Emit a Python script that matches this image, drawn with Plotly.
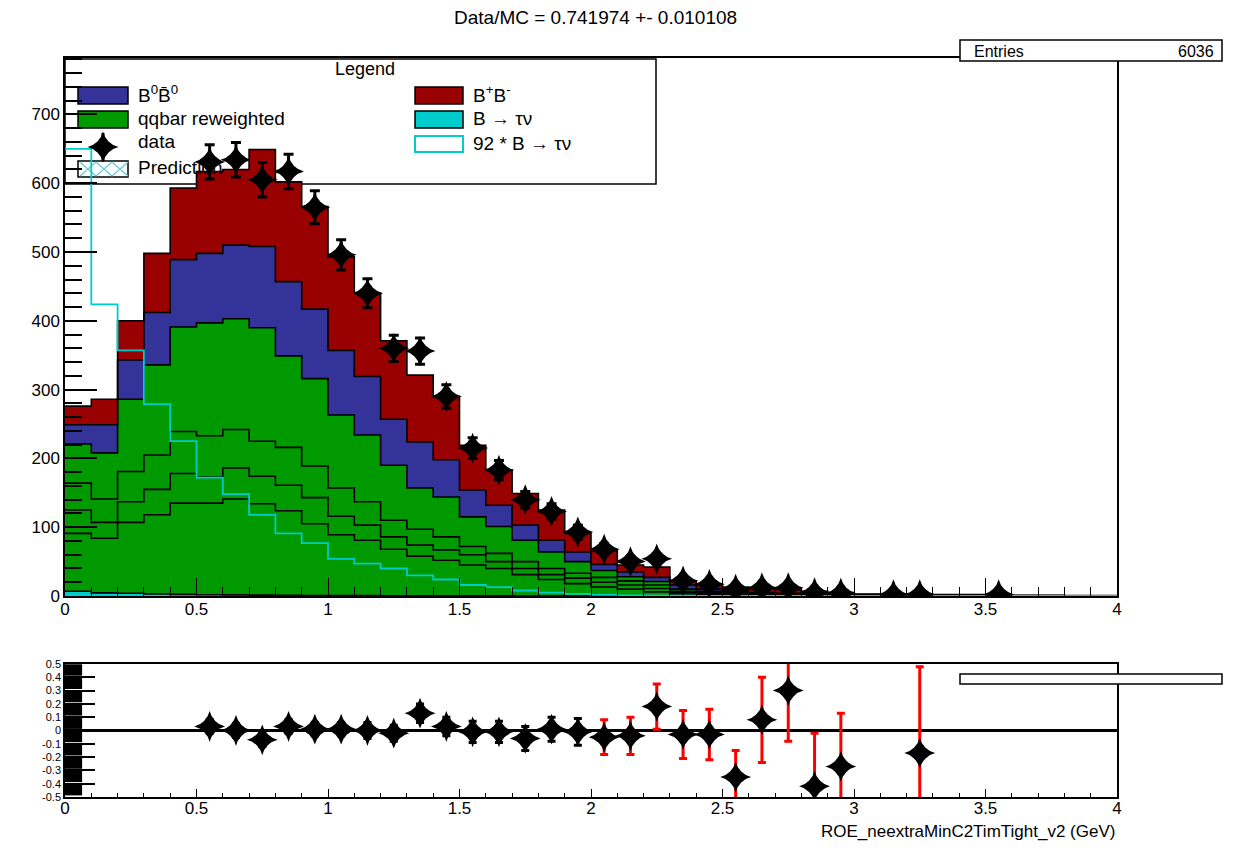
import numpy as np
import plotly.graph_objects as go

# ---------------- data ----------------
bin_edges = np.round(np.arange(0, 4.0001, 0.1), 1)

# cumulative stack levels (top edge of each layer), 40 bins of 0.1
sig_top = [7.0, 4.6, 3.9, 3.0, 2.4, 1.9, 1.6, 1.3, 1.0, 0.8, 0.6, 0.5, 0.4, 0.3, 0.26, 0.18, 0.14, 0.09, 0.05, 0.03,
           0.02, 0.01, 0.01, 0.01, 0, 0, 0, 0, 0, 0, 0, 0, 0, 0, 0, 0, 0, 0, 0, 0]
qq1_top = [91, 84, 107, 118, 135, 135, 141, 134, 124, 105, 89, 81, 68, 58, 52, 45, 40, 31, 24, 18,
           13, 10, 6, 3, 2, 1.2, 0.9, 0.8, 0.6, 0.5, 0.4, 0.35, 0.3, 0.25, 0.2, 0.18, 0.12, 0.1, 0.08, 0.06]
qq2_top = [125, 107, 137, 155, 178, 173, 186, 174, 161, 143, 116, 103, 86, 74, 67, 60, 50, 40, 31, 26,
           20, 16, 11, 5, 3.5, 2, 1.5, 1.3, 1.0, 0.9, 0.7, 0.6, 0.5, 0.4, 0.35, 0.3, 0.2, 0.17, 0.15, 0.1]
qq3_top = [164, 141, 181, 205, 239, 233, 242, 225, 216, 189, 157, 137, 110, 97, 86, 72, 62, 50, 40, 33,
           27, 22, 16, 7, 5, 3, 2.2, 1.9, 1.5, 1.3, 1.1, 1.0, 0.8, 0.6, 0.5, 0.45, 0.3, 0.25, 0.22, 0.15]
qq_top = [221, 208, 286, 336, 391, 397, 403, 390, 349, 316, 263, 234, 190, 157, 144, 115, 101, 81, 64, 50,
          37, 28, 21, 10, 7, 5, 3.5, 3, 2.2, 1.8, 1.5, 1.3, 1.0, 0.8, 0.7, 0.6, 0.4, 0.35, 0.3, 0.2]
b0_top = [249, 249, 343, 412, 489, 498, 510, 508, 457, 417, 357, 319, 257, 224, 198, 154, 132, 103, 81, 64,
          46, 35, 27, 16, 10, 7, 5, 4, 3, 2.5, 2, 1.7, 1.4, 1.2, 1.0, 0.8, 0.6, 0.5, 0.4, 0.3]
bp_top = [276, 286, 400, 498, 593, 617, 620, 649, 602, 566, 493, 440, 371, 321, 290, 219, 183, 149, 125, 91,
          66, 45, 42, 22, 16, 13, 11, 9, 7, 5, 3, 3, 2.5, 2, 2, 1.5, 1, 1, 0.8, 0.5]
sig_x92 = [650, 424, 357, 279, 225, 172, 148, 118, 91, 77, 54, 47, 40, 30, 24, 16, 13, 8, 5, 3,
           1.5, 1, 0.5, 0.5, 0.3, 0.2, 0.1, 0, 0, 0, 0, 0, 0, 0, 0, 0, 0, 0, 0, 0]

data_x = [0.55, 0.65, 0.75, 0.85, 0.95, 1.05, 1.15, 1.25, 1.35, 1.45, 1.55, 1.65, 1.75, 1.85, 1.95,
          2.05, 2.15, 2.25, 2.35, 2.45, 2.55, 2.65, 2.75, 2.85, 2.95, 3.15, 3.25, 3.55]
data_y = [631, 634, 605, 617, 565, 496, 440, 360, 356, 290, 215, 183, 140, 123, 93,
          68, 50, 54, 22, 17, 10, 12, 12, 5, 4, 2, 2, 2]
data_err = [25, 25, 25, 25, 24, 22, 21, 19, 19, 17, 15, 14, 12, 11, 10,
            8, 7, 7, 5, 4, 3, 3.5, 3.5, 2.2, 2, 1.4, 1.4, 1.4]

ratio_x = [0.55, 0.65, 0.75, 0.85, 0.95, 1.05, 1.15, 1.25, 1.35, 1.45, 1.55, 1.65, 1.75, 1.85, 1.95,
           2.05, 2.15, 2.25, 2.35, 2.45, 2.55, 2.65, 2.75, 2.85, 2.95, 3.25]
ratio_y = [0.03, 0.0, -0.07, 0.03, 0.01, 0.01, 0.0, -0.02, 0.13, 0.03, -0.01, -0.01, -0.06, 0.01, -0.01,
           -0.05, -0.04, 0.18, -0.03, -0.03, -0.35, 0.08, 0.30, -0.42, -0.27, -0.17]
ratio_err = [0.05, 0.05, 0.05, 0.05, 0.05, 0.05, 0.06, 0.06, 0.07, 0.07, 0.08, 0.08, 0.09, 0.09, 0.1,
             0.13, 0.14, 0.17, 0.18, 0.19, 0.2, 0.32, 0.38, 0.4, 0.4, 0.65]
n_black = 15  # first points drawn with black error bars, rest red

title_text = "Data/MC = 0.741974 +- 0.010108"
x_title = "ROE_neextraMinC2TimTight_v2 (GeV)"
entries_value = "6036"

# ---------------- layout helpers ----------------
W, H = 1242, 851
L, R, T, B = 65, 125, 58, 54
PW, PH = W - L - R, H - T - B
FONT = "Liberation Sans, Arial, Helvetica, sans-serif"


def px(x):
    return (x - L) / PW


def py(y):
    return (H - B - y) / PH


RED = "#990000"
BLUE = "#333399"
GREEN = "#009900"
CYAN = "#00cccc"

fig = go.Figure()


def step_y(v):
    return list(v) + [v[-1]]


layers = [
    (sig_top, CYAN, "tozeroy"),
    (qq1_top, GREEN, "tonexty"),
    (qq2_top, GREEN, "tonexty"),
    (qq3_top, GREEN, "tonexty"),
    (qq_top, GREEN, "tonexty"),
    (b0_top, BLUE, "tonexty"),
    (bp_top, RED, "tonexty"),
]
for vals, col, fl in layers:
    fig.add_trace(go.Scatter(x=bin_edges, y=step_y(vals), mode="lines",
                             line=dict(shape="hv", color="black", width=1.6),
                             fill=fl, fillcolor=col, showlegend=False,
                             xaxis="x", yaxis="y", hoverinfo="skip"))

fig.add_trace(go.Scatter(x=bin_edges, y=step_y(sig_x92), mode="lines",
                         line=dict(shape="hv", color=CYAN, width=1.8),
                         showlegend=False, xaxis="x", yaxis="y"))

fig.add_trace(go.Scatter(x=data_x, y=data_y, mode="markers",
                         marker=dict(symbol="star-diamond", size=22, color="black"),
                         error_y=dict(type="data", array=data_err, color="black", thickness=3, width=5),
                         showlegend=False, xaxis="x", yaxis="y"))

# ratio panel
fig.add_trace(go.Scatter(x=ratio_x[:n_black], y=ratio_y[:n_black], mode="markers",
                         marker=dict(symbol="star-diamond", size=22, color="black"),
                         error_y=dict(type="data", array=ratio_err[:n_black], color="black", thickness=3, width=4),
                         showlegend=False, xaxis="x2", yaxis="y2"))
fig.add_trace(go.Scatter(x=ratio_x[n_black:], y=ratio_y[n_black:], mode="markers",
                         marker=dict(symbol="star-diamond", size=22, color="black"),
                         error_y=dict(type="data", array=ratio_err[n_black:], color="red", thickness=3, width=4),
                         showlegend=False, xaxis="x2", yaxis="y2", cliponaxis=True))

# legend data glyph on an overlay axis whose values equal paper units
fig.add_trace(go.Scatter(x=[px(103)], y=[py(147)], mode="markers",
                         marker=dict(symbol="star-diamond", size=22, color="black"),
                         error_y=dict(type="constant", value=py(133) - py(147), color="black", thickness=3, width=0),
                         showlegend=False, xaxis="x3", yaxis="y3", cliponaxis=False))

axis_common = dict(showline=True, linecolor="black", linewidth=1.5, mirror=True, ticks="inside",
                   tickcolor="black", showgrid=False, zeroline=False,
                   tickfont=dict(family=FONT, size=17, color="black"))

ymain_bottom = py(596)

fig.update_layout(
    width=W, height=H, margin=dict(l=L, r=R, t=T, b=B),
    paper_bgcolor="white", plot_bgcolor="white",
    xaxis=dict(domain=[0, 1], range=[0, 4], anchor="y", tickvals=[0, 0.5, 1, 1.5, 2, 2.5, 3, 3.5, 4],
               ticktext=["0", "0.5", "1", "1.5", "2", "2.5", "3", "3.5", "4"], ticklen=18, tickwidth=1.2,
               ticklabelstandoff=-3,
               minor=dict(dtick=0.1, ticks="inside", ticklen=9, tickcolor="black"), **axis_common),
    yaxis=dict(domain=[ymain_bottom, 1], range=[0, 782], anchor="x", tickvals=[0, 100, 200, 300, 400, 500, 600, 700],
               ticklen=32, tickwidth=1.6,
               minor=dict(dtick=20, ticks="inside", ticklen=17, tickcolor="black", tickwidth=1.6), **axis_common),
    xaxis2=dict(domain=[0, 1], range=[0, 4], anchor="y2", tickvals=[0, 0.5, 1, 1.5, 2, 2.5, 3, 3.5, 4],
                ticktext=["0", "0.5", "1", "1.5", "2", "2.5", "3", "3.5", "4"], ticklen=8, tickwidth=1.2,
                ticklabelstandoff=-5,
                minor=dict(dtick=0.1, ticks="inside", ticklen=4, tickcolor="black"), **axis_common),
    yaxis2=dict(domain=[0, py(664)], range=[-0.5, 0.5], anchor="x2",
                tickvals=[-0.5, -0.4, -0.3, -0.2, -0.1, 0, 0.1, 0.2, 0.3, 0.4, 0.5],
                ticktext=["-0.5", "-0.4", "-0.3", "-0.2", "-0.1", "0", "0.1", "0.2", "0.3", "0.4", "0.5"],
                ticklen=30, tickwidth=2,
                showline=True, linecolor="black", linewidth=1.5, mirror=True, ticks="inside",
                tickcolor="black", showgrid=False, zeroline=False,
                tickfont=dict(family=FONT, size=11, color="black")),
    xaxis3=dict(range=[0, 1], overlaying="x", anchor="y3", visible=False),
    yaxis3=dict(range=[ymain_bottom, 1], overlaying="y", anchor="x3", visible=False),
)

shapes = []
# legend box (behind histograms)
shapes.append(dict(type="rect", xref="paper", yref="paper", x0=px(65), x1=px(656), y0=py(184), y1=py(59),
                   line=dict(color="black", width=1.5), fillcolor="rgba(0,0,0,0)", layer="below"))


def sym(x0, x1, y0, y1, fill, lcol="black", lw=1.5):
    return dict(type="rect", xref="paper", yref="paper", x0=px(x0), x1=px(x1), y0=py(y1), y1=py(y0),
                line=dict(color=lcol, width=lw), fillcolor=fill, layer="below")


shapes.append(sym(78, 128, 87, 104, BLUE))
shapes.append(sym(78, 128, 111, 128, GREEN))
shapes.append(sym(78, 128, 161, 177, "white"))
shapes.append(sym(415, 463, 87, 104, RED))
shapes.append(sym(415, 463, 111, 128, CYAN))
shapes.append(sym(415, 463, 136, 152, "white", CYAN, 2))
# hatch in prediction symbol
hp = ""
for k in range(3):
    xa, xb = 80 + k * 16, 96 + k * 16
    hp += f"M{px(xa)},{py(162)} L{px(xb)},{py(176)} M{px(xa)},{py(176)} L{px(xb)},{py(162)} "
shapes.append(dict(type="path", xref="paper", yref="paper", path=hp,
                   line=dict(color="#66cccc", width=1.2), layer="below"))

# stats box
shapes.append(dict(type="rect", xref="paper", yref="paper", x0=px(960), x1=px(1222), y0=py(61), y1=py(40),
                   line=dict(color="black", width=1.5), fillcolor="white"))
# empty box in ratio panel
shapes.append(dict(type="rect", xref="paper", yref="paper", x0=px(960), x1=px(1222), y0=py(684), y1=py(674),
                   line=dict(color="black", width=1.5), fillcolor="white"))
# ratio reference line at 0
shapes.append(dict(type="line", xref="x2", yref="y2", x0=0, x1=4, y0=0, y1=0,
                   line=dict(color="black", width=3), layer="below"))
# black blocks at left of ratio panel
for v in [-0.5, -0.4, -0.3, -0.2, -0.1, 0.0, 0.1, 0.2, 0.3, 0.4]:
    shapes.append(dict(type="rect", xref="x2", yref="y2", x0=0, x1=0.065, y0=v + 0.012, y1=v + 0.098,
                       line=dict(width=0), fillcolor="black"))
fig.update_layout(shapes=shapes)

ann = []


def txt(x, y, s, size=19, anchor="left"):
    ann.append(dict(xref="paper", yref="paper", x=px(x), y=py(y), text=s, showarrow=False,
                    xanchor=anchor, yanchor="middle", font=dict(family=FONT, size=size, color="black")))


txt(595, 18, title_text, 19, "center")
txt(365, 69, "Legend", 18, "center")
txt(136, 94, "B<sup>0</sup>B\u0304<sup>0</sup>", 19)
txt(136, 119, "qqbar reweighted", 19)
txt(136, 142, "data", 19)
txt(136, 167, "Prediction", 19)
txt(471, 94, "B<sup>+</sup>B<sup>-</sup>", 19)
txt(471, 119, "B \u2192 \u03c4\u03bd", 19)
txt(471, 143, "92 * B \u2192 \u03c4\u03bd", 19)
txt(972, 51, "Entries", 16)
txt(1216, 51, entries_value, 16, "right")
ann.append(dict(xref="paper", yref="paper", x=px(1117), y=py(831), text=x_title, showarrow=False,
                xanchor="right", yanchor="middle", font=dict(family=FONT, size=17, color="black")))
fig.update_layout(annotations=ann)

fig.write_html("out.html")
